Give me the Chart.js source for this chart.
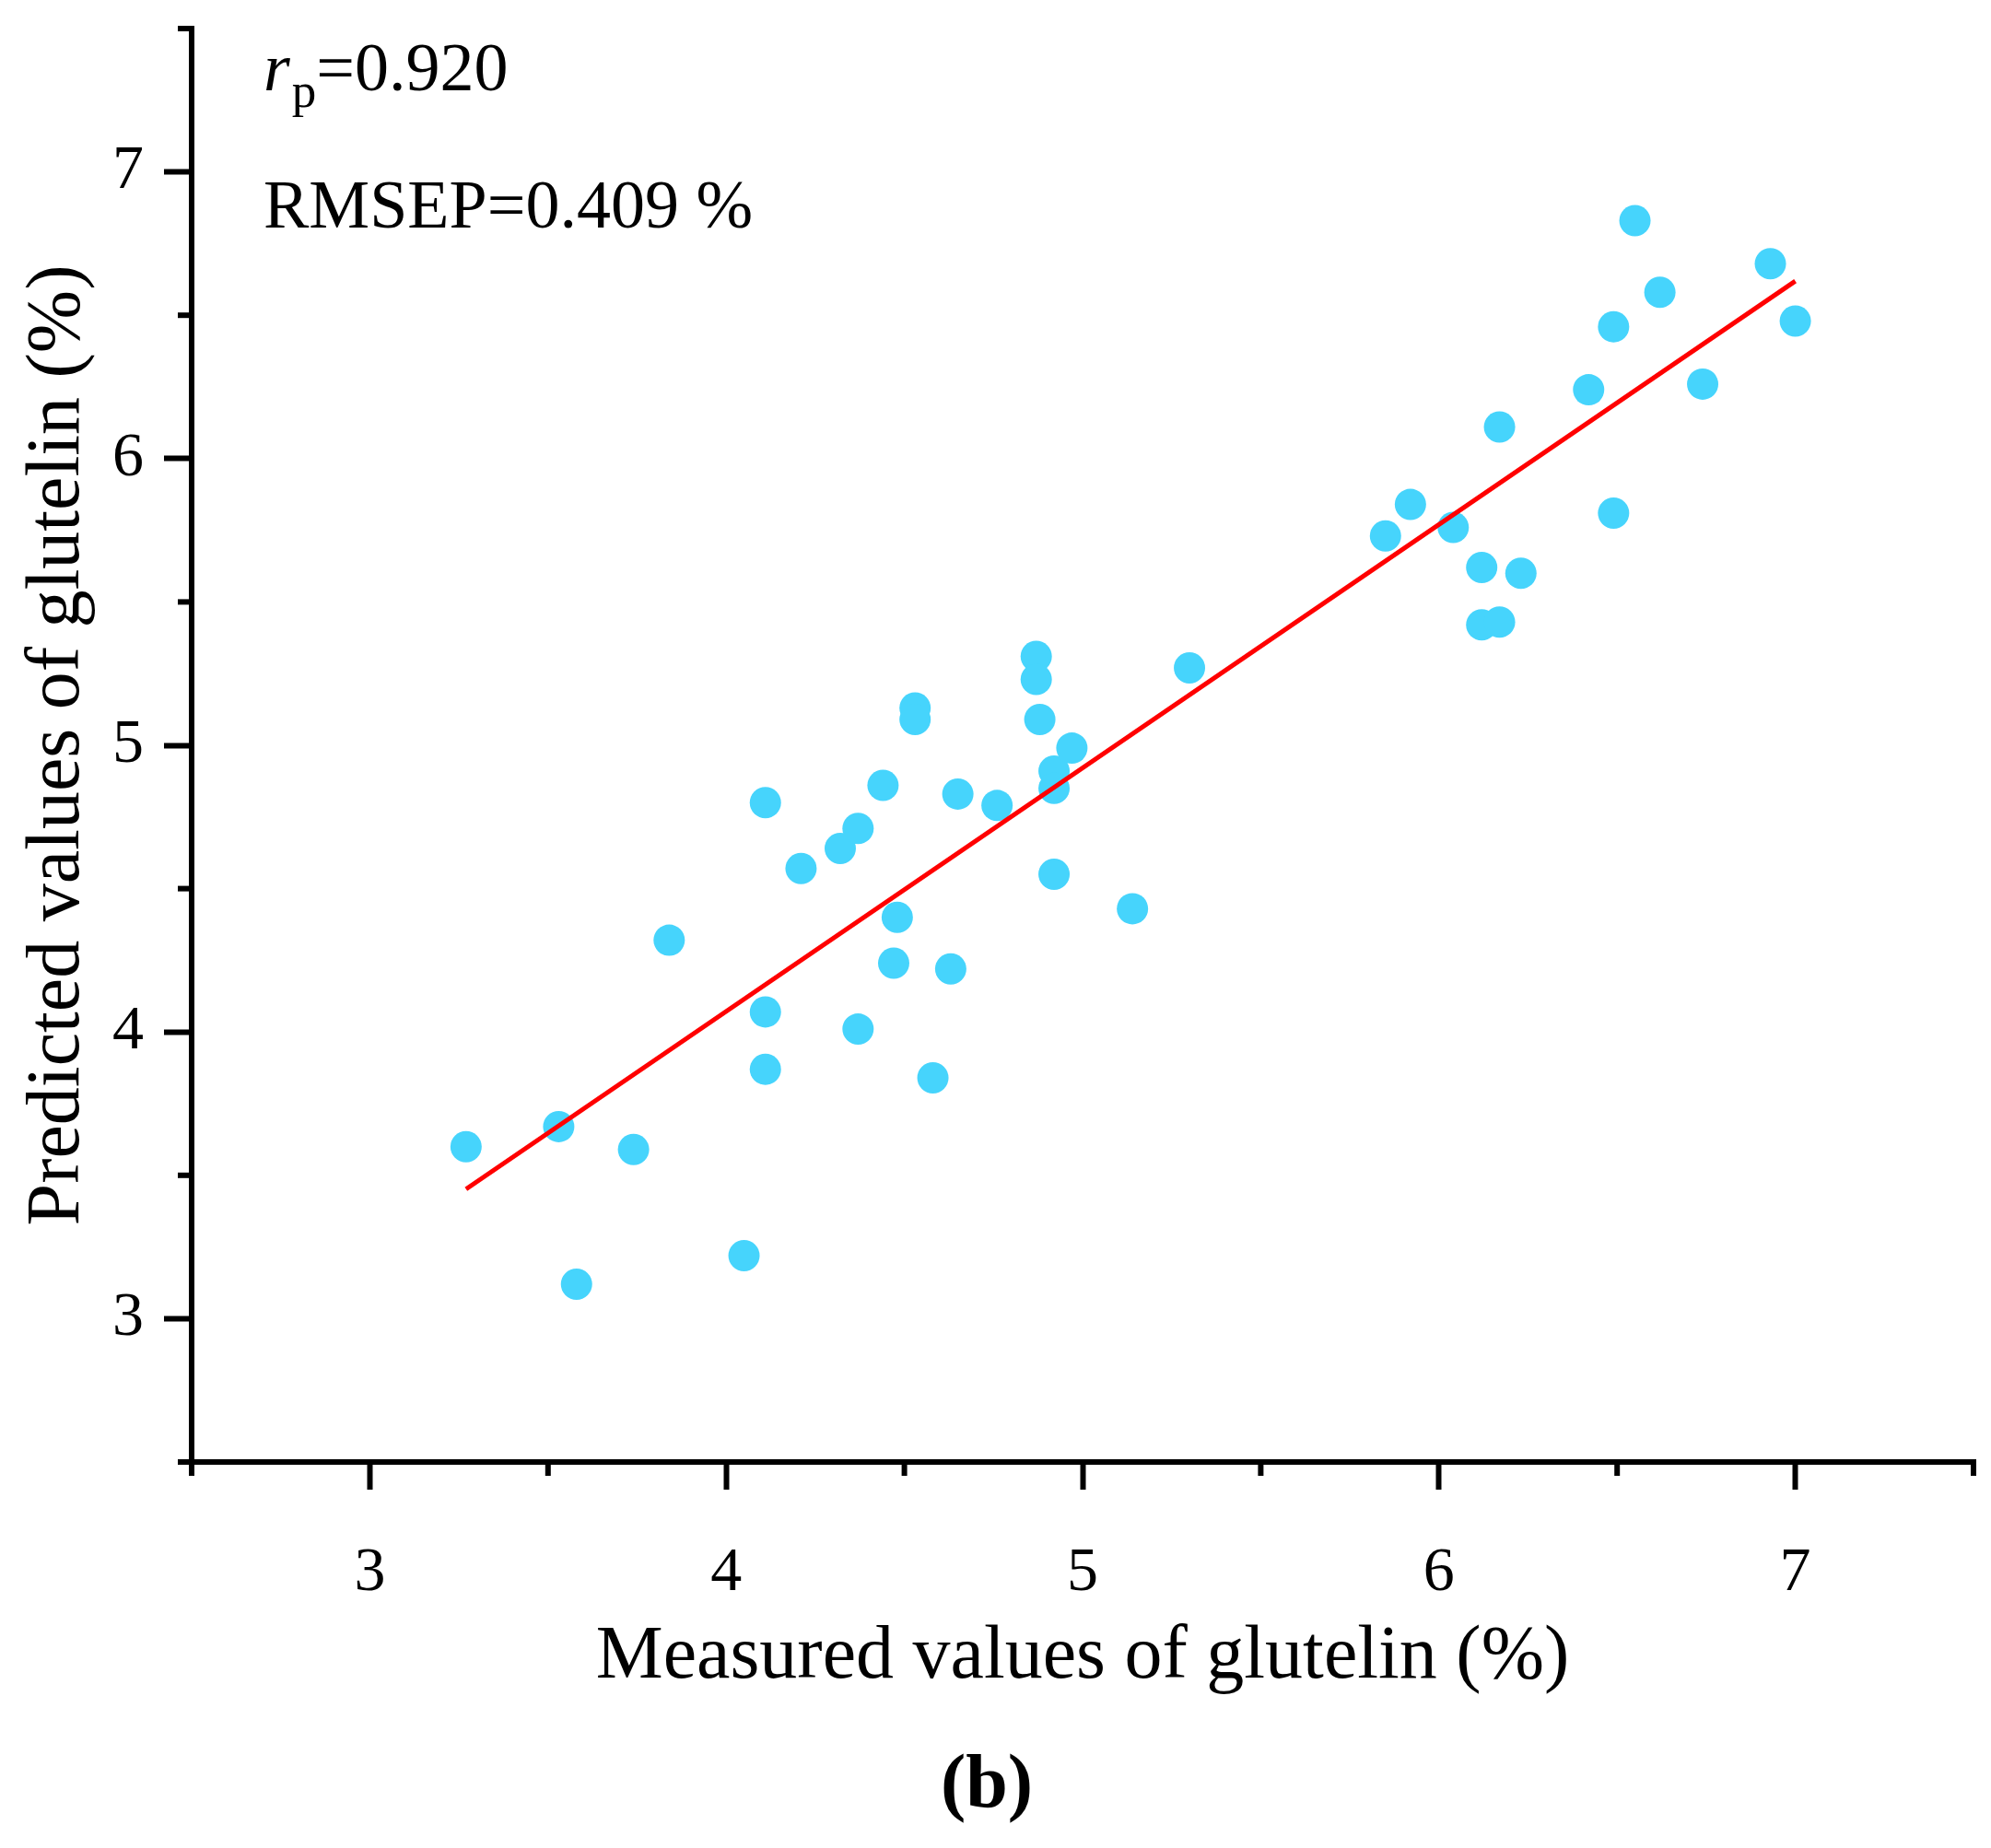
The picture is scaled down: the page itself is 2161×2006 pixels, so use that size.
<!DOCTYPE html>
<html>
<head>
<meta charset="utf-8">
<script src="https://cdn.jsdelivr.net/npm/chart.js@4.4.1/dist/chart.umd.min.js"></script>
<style>
  html, body { margin: 0; padding: 0; background: #fff; }
  #wrap { width: 2161px; height: 2006px; }
</style>
</head>
<body>
<div id="wrap"><canvas id="chart" width="2161" height="2006"></canvas></div>
<script>
// data
const measured = [3.27, 3.53, 3.58, 3.74, 3.84, 4.05, 4.11, 4.11, 4.11, 4.21, 4.32, 4.37, 4.37, 4.44, 4.48, 4.47,
  4.53, 4.53, 4.58, 4.63, 4.65, 4.76, 4.87, 4.87, 4.88, 4.92, 4.92, 4.92, 4.97, 5.14, 5.30,
  5.85, 5.92, 6.04, 6.12, 6.12, 6.17, 6.23, 6.17, 6.42, 6.49, 6.49, 6.55, 6.62, 6.74, 6.93, 7.00]
const predicted = [3.60, 3.67, 3.12, 3.59, 4.32, 3.22, 4.80, 4.07, 3.87, 4.57, 4.64, 4.71, 4.01, 4.86, 4.40, 4.24,
  5.13, 5.09, 3.84, 4.22, 4.83, 4.79, 5.31, 5.23, 5.09, 4.91, 4.85, 4.55, 4.99, 4.43, 5.27,
  5.73, 5.84, 5.76, 5.62, 5.42, 5.43, 5.60, 6.11, 6.24, 5.81, 6.46, 6.83, 6.58, 6.26, 6.68, 6.48]
const fitX = [3.27, 7.00]
const fitY = [3.452, 6.619]
const xTicks = [3, 4, 5, 6, 7]
const yTicks = [3, 4, 5, 6, 7]
const minorTicks = [2.5, 3.5, 4.5, 5.5, 6.5, 7.5]

const SERIF = "'Liberation Serif', 'Times New Roman', serif"

// short half-step ticks, placed with the scales
const minorTickPlugin = {
  id: 'minorTicks',
  afterDraw(chart) {
    const { ctx, chartArea, scales } = chart
    ctx.save()
    ctx.strokeStyle = '#000'
    ctx.lineWidth = 6
    minorTicks.forEach(v => {
      const px = scales.x.getPixelForValue(v)
      ctx.beginPath()
      ctx.moveTo(px, chartArea.bottom - 3)
      ctx.lineTo(px, chartArea.bottom + 15)
      ctx.stroke()
      const py = scales.y.getPixelForValue(v)
      ctx.beginPath()
      ctx.moveTo(chartArea.left + 3, py)
      ctx.lineTo(chartArea.left - 15, py)
      ctx.stroke()
    })
    ctx.restore()
  }
}

// r_p and RMSEP text in the upper left
const statsPlugin = {
  id: 'stats',
  afterDraw(chart) {
    const { ctx, chartArea } = chart
    const x0 = chartArea.left + 78
    const y1 = chartArea.top + 67
    const y2 = chartArea.top + 216
    ctx.save()
    ctx.fillStyle = '#000'
    ctx.textBaseline = 'alphabetic'
    ctx.textAlign = 'left'
    let x = x0
    ctx.font = `italic 74px ${SERIF}`
    ctx.fillText('r', x, y1)
    x += ctx.measureText('r').width + 2
    ctx.font = `53px ${SERIF}`
    ctx.fillText('p', x, y1 + 18)
    x += ctx.measureText('p').width
    ctx.font = `74px ${SERIF}`
    ctx.fillText('=0.920', x, y1)
    ctx.fillText('RMSEP=0.409 %', x0, y2)
    ctx.restore()
  }
}

const axisStyle = {
  border: { display: true, color: '#000', width: 6 },
  grid: { display: true, drawOnChartArea: false, drawTicks: true, tickLength: 30, tickWidth: 6, tickColor: '#000' },
}

new Chart(document.getElementById('chart'), {
  data: {
    datasets: [
      {
        type: 'line',
        order: 0,
        data: fitX.map((x, i) => ({ x, y: fitY[i] })),
        borderColor: '#FF0000',
        borderWidth: 5,
        pointRadius: 0,
        fill: false,
        tension: 0
      },
      {
        type: 'scatter',
        order: 1,
        data: measured.map((x, i) => ({ x, y: predicted[i] })),
        backgroundColor: '#46D4FC',
        borderWidth: 0,
        pointRadius: 17,
        pointHoverRadius: 17
      }
    ]
  },
  options: {
    responsive: false,
    animation: false,
    devicePixelRatio: 1,
    layout: { padding: { top: 31, right: 19, bottom: 0, left: 0 } },
    plugins: {
      legend: { display: false },
      tooltip: { enabled: false },
      title: {
        display: true,
        position: 'bottom',
        text: '(b)',
        color: '#000',
        font: { family: SERIF, size: 82, weight: 'bold' },
        padding: { top: 0, bottom: 17 }
      }
    },
    scales: {
      x: {
        type: 'linear',
        position: 'bottom',
        min: 2.5,
        max: 7.5,
        ...axisStyle,
        ticks: { color: '#000', padding: 50, font: { family: SERIF, size: 68 } },
        afterBuildTicks: s => { s.ticks = xTicks.map(v => ({ value: v })) },
        afterFit: s => { s.height = 303.6; s.paddingLeft = 0; s.paddingRight = 0 },
        title: {
          display: true,
          text: 'Measured values of glutelin (%)',
          color: '#000',
          font: { family: SERIF, size: 82 },
          padding: { top: 0, bottom: 42 }
        }
      },
      y: {
        type: 'linear',
        position: 'left',
        min: 2.5,
        max: 7.5,
        ...axisStyle,
        ticks: { color: '#000', padding: 22, font: { family: SERIF, size: 68 } },
        afterBuildTicks: s => { s.ticks = yTicks.map(v => ({ value: v })) },
        afterFit: s => { s.width = 208; s.paddingTop = 0; s.paddingBottom = 0 },
        title: {
          display: true,
          text: 'Predicted values of glutelin (%)',
          color: '#000',
          font: { family: SERIF, size: 82 },
          padding: { top: 14, bottom: 0 }
        }
      }
    }
  },
  plugins: [minorTickPlugin, statsPlugin]
})
</script>
</body>
</html>
